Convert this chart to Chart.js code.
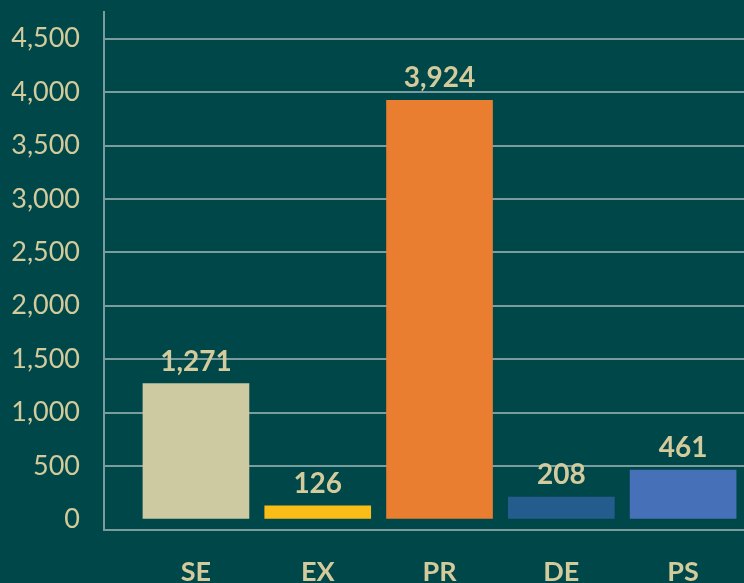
<!DOCTYPE html>
<html>
<head>
<meta charset="utf-8">
<script src="https://cdn.jsdelivr.net/npm/chart.js@4"></script>
<style>
  html, body { margin: 0; padding: 0; background: #00474a; }
  #wrap { width: 744px; height: 583px; }
</style>
</head>
<body>
<div id="wrap"><canvas id="chart"></canvas></div>
<script>
// data
const categories = ['SE', 'EX', 'PR', 'DE', 'PS'];
const values = [1271, 126, 3924, 208, 461];
const barColors = ['#cdc9a0', '#f8bd17', '#e97e31', '#245c8e', '#4670b7'];
const yTicks = [0, 500, 1000, 1500, 2000, 2500, 3000, 3500, 4000, 4500];

const textColor = '#d3cb9c';
const gridColor = '#7b9c9d';

// fondo
const bgPlugin = {
    id: 'bg',
    beforeDraw(chart) {
        const ctx = chart.ctx;
        ctx.save();
        ctx.fillStyle = '#00474a';
        ctx.fillRect(0, 0, chart.width, chart.height);
        ctx.restore();
    }
};

// etiquetas arriba de cada barra
const valueLabels = {
    id: 'valueLabels',
    afterDatasetsDraw(chart) {
        const ctx = chart.ctx;
        const meta = chart.getDatasetMeta(0);
        ctx.save();
        ctx.font = 'bold 28px Lato';
        ctx.fillStyle = textColor;
        ctx.textAlign = 'center';
        ctx.textBaseline = 'alphabetic';
        meta.data.forEach((bar, i) => {
            ctx.fillText(values[i].toLocaleString('en-US'), bar.x, bar.y - 13);
        });
        ctx.restore();
    }
};

const noPad = s => {
    s.paddingTop = 0; s.paddingBottom = 0;
    s.paddingLeft = 0; s.paddingRight = 0;
};

new Chart(document.getElementById('chart'), {
    type: 'bar',
    data: {
        datasets: [{
            data: values.map((v, i) => ({ x: i, y: v })),
            backgroundColor: barColors,
            barThickness: 106,
            borderWidth: 0
        }]
    },
    options: {
        responsive: true,
        maintainAspectRatio: false,
        animation: false,
        layout: { padding: { top: 12, right: 0, left: 0, bottom: 0 } },
        plugins: {
            legend: { display: false },
            tooltip: { enabled: false }
        },
        scales: {
            x: {
                type: 'linear',
                min: -0.755,
                max: 4.5,
                offset: false,
                afterBuildTicks: s => { s.ticks = categories.map((c, i) => ({ value: i })); },
                afterFit: s => { s.height = 53; noPad(s); },
                grid: { display: false, offset: false },
                border: { display: true, color: gridColor, width: 2 },
                ticks: {
                    color: textColor,
                    font: { family: 'Lato', size: 27, weight: 'bold' },
                    padding: 18,
                    maxRotation: 0,
                    autoSkip: false,
                    callback: v => categories[v]
                }
            },
            y: {
                min: -100,
                max: 4750,
                afterBuildTicks: s => { s.ticks = yTicks.map(v => ({ value: v })); },
                afterFit: s => { s.width = 104; noPad(s); },
                grid: {
                    color: ctx => (ctx.tick && ctx.tick.value === 0) ? 'rgba(0,0,0,0)' : gridColor,
                    lineWidth: 2,
                    drawTicks: false
                },
                border: { display: true, color: gridColor, width: 2 },
                ticks: {
                    color: textColor,
                    font: { family: 'Lato', size: 27 },
                    padding: 24,
                    callback: v => v.toLocaleString('en-US')
                }
            }
        }
    },
    plugins: [bgPlugin, valueLabels]
});
</script>
</body>
</html>
